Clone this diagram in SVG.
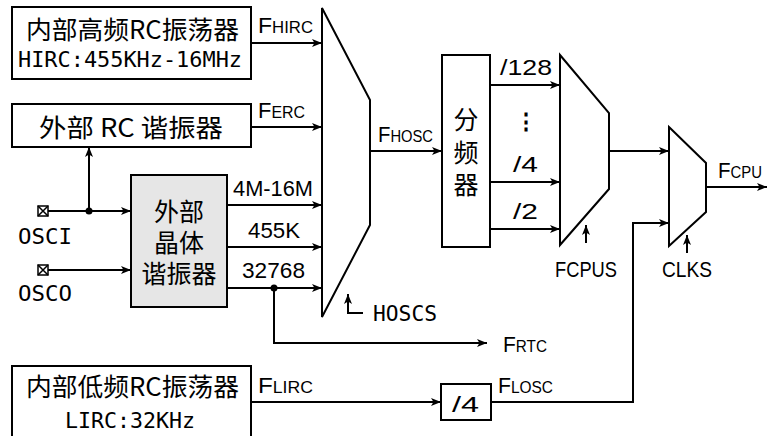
<svg xmlns="http://www.w3.org/2000/svg" width="768" height="436" viewBox="0 0 768 436">
<style>
.bx{fill:#fff;stroke:#000;stroke-width:2}
.gx{fill:#e6e6e6;stroke:#000;stroke-width:2}
.mx{fill:#fff;stroke:#000;stroke-width:2;stroke-linejoin:miter}
.ln{fill:none;stroke:#000;stroke-width:2}
.ar{marker-end:url(#ah)}
.cj{font-family:"Noto Sans CJK SC",sans-serif;font-size:25px;fill:#000}
.mo{font-family:"DejaVu Sans Mono","Liberation Mono",monospace;font-size:21px;fill:#000}
.lb{font-family:"Liberation Sans",Arial,sans-serif;font-size:22px;fill:#000}
.sc{font-size:16px}
.mid{text-anchor:middle}
</style>
<defs>
<marker id="ah" viewBox="0 0 10 8" refX="10" refY="4" markerWidth="10" markerHeight="8" orient="auto" markerUnits="userSpaceOnUse">
<path d="M0,0 L10,4 L0,8 L2.5,4 z" fill="#000"/>
</marker>
</defs>
<rect width="768" height="436" fill="#fff"/>

<g id="hirc">
<rect class="bx" x="12" y="7" width="239" height="72"/>
<text class="cj" x="26" y="39" textLength="213" lengthAdjust="spacingAndGlyphs">内部高频RC振荡器</text>
<text class="mo" x="18" y="67" textLength="224" lengthAdjust="spacingAndGlyphs">HIRC:455KHz-16MHz</text>
</g>

<g id="erc">
<rect class="bx" x="12" y="104" width="239" height="43"/>
<text class="cj" x="39" y="137" textLength="184" lengthAdjust="spacingAndGlyphs">外部 RC 谐振器</text>
</g>

<g id="osci">
<rect x="38" y="206" width="10" height="10" fill="#fff" stroke="#000" stroke-width="1.5"/>
<path d="M38,206 L48,216 M48,206 L38,216" stroke="#000" stroke-width="1.5"/>
<text class="mo" x="18" y="244" textLength="54" lengthAdjust="spacingAndGlyphs">OSCI</text>
</g>

<g id="osco">
<rect x="38" y="265" width="10" height="10" fill="#fff" stroke="#000" stroke-width="1.5"/>
<path d="M38,265 L48,275 M48,265 L38,275" stroke="#000" stroke-width="1.5"/>
<text class="mo" x="18" y="301" textLength="54" lengthAdjust="spacingAndGlyphs">OSCO</text>
</g>

<g id="crystal">
<rect class="gx" x="131" y="175" width="96" height="132"/>
<text class="cj mid" x="179" y="221">外部</text>
<text class="cj mid" x="179" y="252">晶体</text>
<text class="cj mid" x="179" y="283">谐振器</text>
</g>

<g id="mux1">
<path class="mx" d="M322,8 L370,100 L370,225 L322,317 Z"/>
</g>

<g id="divider">
<rect class="bx" x="442" y="55" width="48" height="192"/>
<text class="cj mid" x="466" y="129">分</text>
<text class="cj mid" x="466" y="162">频</text>
<text class="cj mid" x="466" y="194">器</text>
</g>

<g id="mux2">
<path class="mx" d="M560,55 L609,113 L609,189 L560,245 Z"/>
</g>

<g id="mux3">
<path class="mx" d="M669,127 L706,163 L706,212 L669,246 Z"/>
</g>

<g id="lirc">
<rect class="bx" x="12" y="366" width="239" height="80"/>
<text class="cj" x="26" y="396" textLength="213" lengthAdjust="spacingAndGlyphs">内部低频RC振荡器</text>
<text class="mo" x="65" y="428" textLength="130" lengthAdjust="spacingAndGlyphs">LIRC:32KHz</text>
</g>

<g id="div4">
<rect class="bx" x="441" y="384" width="50" height="36"/>
<text class="lb" x="452" y="412" textLength="27" lengthAdjust="spacingAndGlyphs">/4</text>
</g>

<g id="connectors">
<path class="ln ar" d="M251,43 H322"/>
<path class="ln ar" d="M251,127 H322"/>
<path class="ln ar" d="M48,211 H131"/>
<path class="ln ar" d="M89,211 V147"/>
<path class="ln ar" d="M48,270 H131"/>
<path class="ln ar" d="M227,205 H322"/>
<path class="ln ar" d="M227,247 H322"/>
<path class="ln ar" d="M227,288 H322"/>
<path class="ln ar" d="M274,288 V343 H487"/>
<path class="ln ar" d="M363,313 H348 V294"/>
<path class="ln ar" d="M370,151 H442"/>
<path class="ln ar" d="M490,85 H560"/>
<path class="ln ar" d="M490,182 H560"/>
<path class="ln ar" d="M490,229 H560"/>
<path class="ln ar" d="M586,243 V225"/>
<path class="ln ar" d="M609,151 H669"/>
<path class="ln ar" d="M251,402 H441"/>
<path class="ln ar" d="M491,402 H633 V223 H669"/>
<path class="ln ar" d="M687,253 V235"/>
<path class="ln ar" d="M706,187 H767"/>
<circle cx="89" cy="211" r="3.5" fill="#000"/>
<circle cx="274" cy="288" r="3.5" fill="#000"/>
</g>

<g id="labels">
<text class="lb" x="258" y="33" textLength="55" lengthAdjust="spacingAndGlyphs">F<tspan class="sc">HIRC</tspan></text>
<text class="lb" x="258" y="118" textLength="47" lengthAdjust="spacingAndGlyphs">F<tspan class="sc">ERC</tspan></text>
<text class="lb" x="378" y="142" textLength="55" lengthAdjust="spacingAndGlyphs">F<tspan class="sc">HOSC</tspan></text>
<text class="lb" x="503" y="352" textLength="44" lengthAdjust="spacingAndGlyphs">F<tspan class="sc">RTC</tspan></text>
<text class="lb" x="258" y="393" textLength="55" lengthAdjust="spacingAndGlyphs">F<tspan class="sc">LIRC</tspan></text>
<text class="lb" x="498" y="393" textLength="55" lengthAdjust="spacingAndGlyphs">F<tspan class="sc">LOSC</tspan></text>
<text class="lb" x="718" y="178" textLength="44" lengthAdjust="spacingAndGlyphs">F<tspan class="sc">CPU</tspan></text>
<text class="lb" x="233" y="196" textLength="80" lengthAdjust="spacingAndGlyphs">4M-16M</text>
<text class="lb" x="248" y="238" textLength="52" lengthAdjust="spacingAndGlyphs">455K</text>
<text class="lb" x="242" y="278" textLength="63" lengthAdjust="spacingAndGlyphs">32768</text>
<text class="lb" x="500" y="75" textLength="52" lengthAdjust="spacingAndGlyphs">/128</text>
<text class="lb" x="513" y="172" textLength="25" lengthAdjust="spacingAndGlyphs">/4</text>
<text class="lb" x="513" y="219" textLength="25" lengthAdjust="spacingAndGlyphs">/2</text>
<text class="lb mid" x="526" y="129" font-weight="bold">⋮</text>
<text class="lb mid" x="586" y="277" font-size="21" textLength="62" lengthAdjust="spacingAndGlyphs">FCPUS</text>
<text class="lb mid" x="687" y="277" font-size="21" textLength="50" lengthAdjust="spacingAndGlyphs">CLKS</text>
<text class="mo" x="373" y="321" textLength="64" lengthAdjust="spacingAndGlyphs">HOSCS</text>
</g>
</svg>
